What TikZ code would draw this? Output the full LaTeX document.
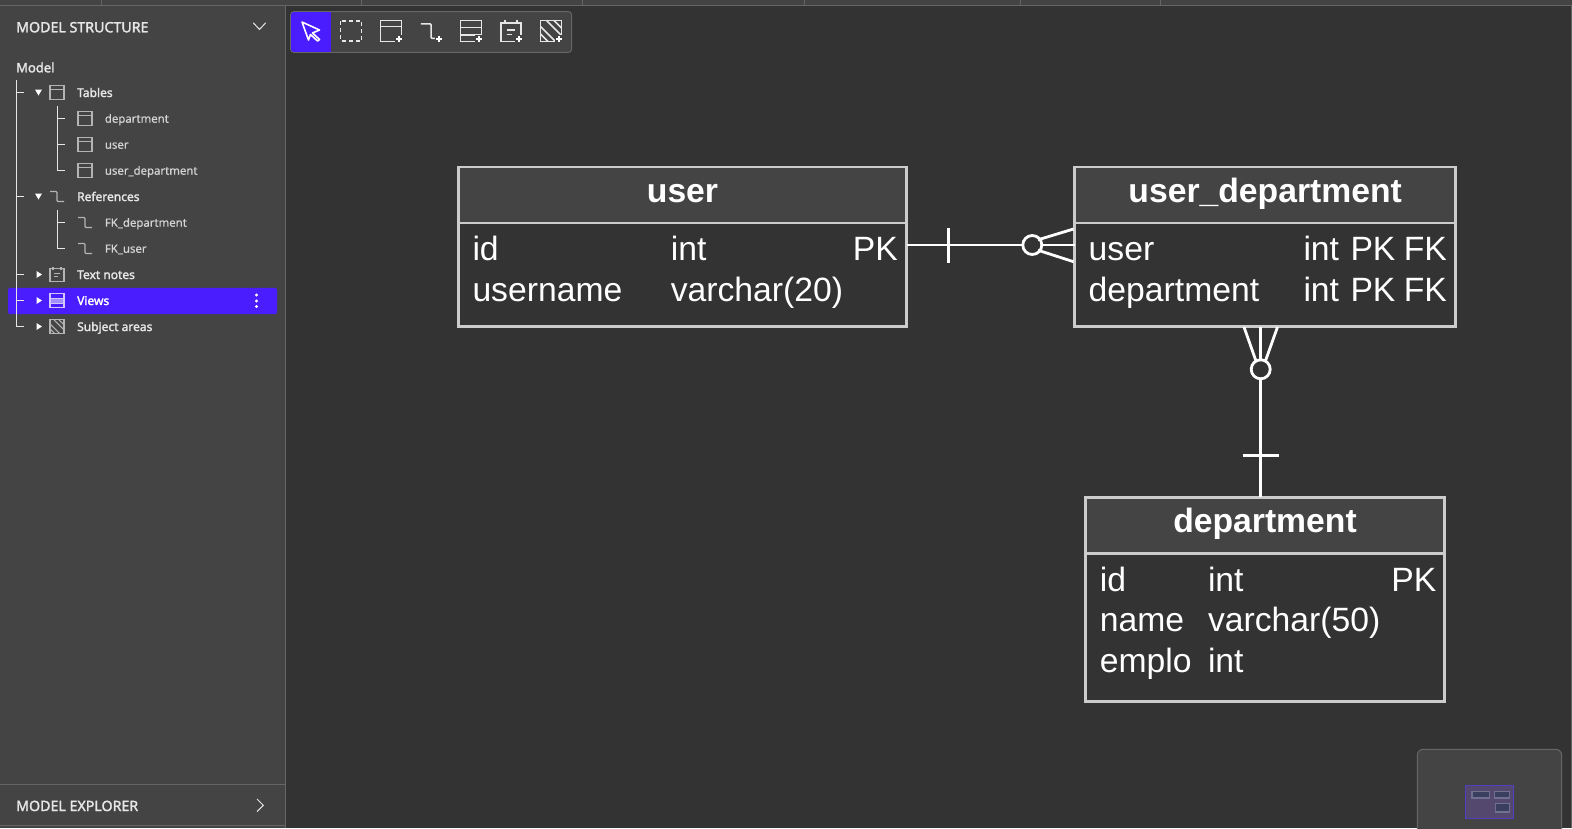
\documentclass[tikz,border=0pt]{standalone}
\usepackage{fontspec}
\setmainfont{Liberation Sans}
\newfontfamily\uifont[FakeBold=0.6]{Noto Sans}
\newfontfamily\uisemi[FakeBold=2]{Noto Sans}
\definecolor{canvas}{HTML}{333333}
\definecolor{panel}{HTML}{444444}
\definecolor{edge}{HTML}{666666}
\definecolor{tabline}{HTML}{CCCCCC}
\definecolor{accent}{HTML}{4A1DFF}
\definecolor{icong}{HTML}{B4B4B4}
\definecolor{uitext}{HTML}{E6E6E6}
\definecolor{minifill}{HTML}{54486E}
\definecolor{miniline}{HTML}{5040C0}
\definecolor{minitab}{HTML}{3A3F5F}
\definecolor{minitabl}{HTML}{70708F}
\tikzset{
 x=1pt,y=-1pt,
 tbox/.style={draw=tabline,line width=2.6pt,rectangle,inner sep=0pt,outer sep=0pt},
 thead/.style={tbox,fill=panel},
 tbody/.style={tbox},
 rowtxt/.style={inner sep=0pt,anchor=base west,text=white,font=\fontsize{33.7}{33.7}\selectfont},
 rowend/.style={rowtxt,anchor=base east},
 titletxt/.style={inner sep=0pt,anchor=base,text=white,font=\fontsize{33.7}{33.7}\selectfont\bfseries},
 conn/.style={draw=white,line width=2.8pt},
 sect/.style={inner sep=0pt,anchor=base west,text=uitext,font=\uisemi\fontsize{14.2}{14.2}\selectfont},
 lvlone/.style={inner sep=0pt,anchor=base west,text=uitext,font=\uisemi\fontsize{12}{12}\selectfont},
 lvltwo/.style={inner sep=0pt,anchor=base west,text=uitext!92!black,font=\uifont\fontsize{11.4}{12}\selectfont},
 tree/.style={draw=uitext,line width=1pt},
 ico/.style={draw=icong,line width=1.1pt},
 tool/.style={draw=uitext,line width=1.5pt},
 tri/.style={fill=white,draw=none},
}
\newcommand{\icTable}[3]{\begin{scope}[shift={(#1,#2)},scale=#3]
 \draw[ico,line width=\icw] (-7,-7) rectangle (7,7); \draw[ico,line width=\icw] (-7,-3) -- (7,-3);
\end{scope}}
\newcommand{\icRef}[3]{\begin{scope}[shift={(#1,#2)},scale=#3]
 \draw[ico,line width=\icw,rounded corners=1pt] (-7,-5) -- (0,-5) -- (0,5) -- (7,5);
\end{scope}}
\newcommand{\icNote}[3]{\begin{scope}[shift={(#1,#2)},scale=#3]
 \draw[ico,line width=\icw] (-7,-6) rectangle (7,7);
 \draw[ico,line width=\icw] (-4,-8) -- (-4,-5) (4,-8) -- (4,-5) (-3,-1) -- (3,-1) (-3,2) -- (1,2);
\end{scope}}
\newcommand{\icRows}[3]{\begin{scope}[shift={(#1,#2)},scale=#3]
 \draw[ico,line width=\icw] (-7,-7) rectangle (7,7); \draw[ico,line width=\icw] (-7,-2.5) -- (7,-2.5) (-7,2.5) -- (7,2.5);
\end{scope}}
\newcommand{\icArea}[3]{\begin{scope}[shift={(#1,#2)},scale=#3]
 \draw[ico,line width=\icw] (-7,-7) rectangle (7,7);
 \draw[ico,line width=\icw] (-7,-3) -- (3,7) (-3,-7) -- (7,3) (2,-7) -- (7,-2) (-7,2) -- (-2,7);
\end{scope}}
\newcommand{\icPlus}[2]{\fill[panel] (#1-4.5,#2-4.5) rectangle (#1+4.5,#2+4.5);
 \draw[white,line width=1.5pt] (#1-3,#2) -- (#1+3,#2) (#1,#2-3) -- (#1,#2+3);}
\newcommand{\triDown}[2]{\fill[tri] (#1-3.5,#2-3) -- (#1+3.5,#2-3) -- (#1,#2+3) -- cycle;}
\newcommand{\triRight}[2]{\fill[tri] (#1-2.5,#2-3.5) -- (#1+3,#2) -- (#1-2.5,#2+3.5) -- cycle;}
\def\icw{1.1pt}
\begin{document}
\begin{tikzpicture}
\useasboundingbox (0,0) rectangle (1572,828);
\fill[canvas] (0,0) rectangle (1572,828);
% top band
\fill[panel] (0,0) rectangle (1572,5.5);
\draw[edge,line width=1pt] (0,5.5) -- (1572,5.5);
\foreach \t in {101,361,582,804,1020,1160}{\draw[edge,line width=1pt] (\t,0) -- (\t,5);}
\draw[edge,line width=1pt] (1571,5.5) -- (1571,828);
% sidebar
\fill[panel] (0,6) rectangle (285,828);
\draw[edge,line width=1pt] (285.5,5.5) -- (285.5,828);
\draw[edge,line width=1pt] (0,784.5) -- (285,784.5) (0,825.5) -- (285,825.5);
\node[sect] (hstruct) at (16,32.3) {MODEL STRUCTURE};
\draw[draw=uitext,line width=1pt] (253.3,22.8) -- (259.5,29.5) -- (265.7,22.8);
\node[sect,font=\uisemi\fontsize{13}{13}\selectfont] (hmodel) at (16,72.3) {Model};
\node[sect] (hexpl) at (16,811) {MODEL EXPLORER};
\draw[draw=uitext,line width=1pt] (257,799) -- (263.3,805.3) -- (257,811.7);
% highlight
\fill[accent,rounded corners=1.5pt] (8,287.8) rectangle (277,314);
\fill[white] (256.5,295) circle[radius=1.6] (256.5,301) circle[radius=1.6] (256.5,306.5) circle[radius=1.6];
% tree lines
\draw[tree] (16.5,80) -- (16.5,326.5) -- (24,326.5);
\foreach \yy in {92.5,196.5,274.5,300.5}{\draw[tree] (16.5,\yy) -- (24,\yy);}
\draw[tree] (57.5,106) -- (57.5,170.5) -- (65,170.5) (57.5,118.5) -- (65,118.5) (57.5,144.5) -- (65,144.5);
\draw[tree] (57.5,210) -- (57.5,248.5) -- (65,248.5) (57.5,222.5) -- (65,222.5);
% triangles
\triDown{38.5}{92.5}\triDown{38.5}{196.5}
\triRight{39}{274.5}\triRight{39}{300.5}\triRight{39}{326.5}
% icons
\icTable{57}{92.8}{1}\icTable{85}{118.8}{1}\icTable{85}{144.8}{1}\icTable{85}{170.8}{1}
\icRef{57}{196.5}{1}\icRef{85}{222.5}{1}\icRef{85}{248.5}{1}
\icNote{57}{274.8}{1}
\fill[white!50!accent] (50,298) rectangle (64,303);
\begin{scope}[ico/.append style={draw=white!75!accent}]\icRows{57}{300.8}{1}\end{scope}
\icArea{57}{326.8}{1}
% labels
\node[lvlone] (ltables) at (77,97) {Tables};
\node[lvltwo] (ldept) at (104.7,122.7) {department};
\node[lvltwo] (luser) at (104.7,148.7) {user};
\node[lvltwo] (lud) at (104.7,174.7) {user\_department};
\node[lvlone] (lrefs) at (77,201) {References};
\node[lvltwo] (lfkd) at (104.7,226.7) {FK\_department};
\node[lvltwo] (lfku) at (104.7,252.7) {FK\_user};
\node[lvlone] (lnotes) at (77,279) {Text notes};
\node[lvlone,text=white] (lviews) at (77,305) {Views};
\node[lvlone] (lareas) at (77,331) {Subject areas};
% toolbar
\draw[edge,fill=panel,line width=1pt,rounded corners=3pt] (290.7,11.7) rectangle (571.5,52.3);
\fill[accent,rounded corners=2.5pt] (291.2,12.2) rectangle (298,51.8);
\fill[accent] (294,12.2) rectangle (331,51.8);
\draw[white,line width=1.6pt,line join=round] (302,22) -- (319.5,30) -- (312.5,33) -- (319.5,39.5) -- (317.5,41) -- (310.5,34.5) -- (308.5,40) -- cycle;
\draw[tool,dash pattern=on 4pt off 3pt] (340.5,21) rectangle (361.5,41);
\def\icw{1.5pt}
\begin{scope}[ico/.append style={draw=uitext}]
\icTable{391}{31}{1.5}\icPlus{399}{39}
\icRef{431}{31}{1.45}\icPlus{439}{39}
\icRows{471}{31}{1.5}\icPlus{479}{39}
\icNote{511}{31.5}{1.45}\icPlus{519}{39}
\icArea{551}{31}{1.5}\icPlus{559}{39}
\end{scope}
% minimap
\draw[edge,fill=panel,line width=1pt,rounded corners=6pt] (1417.3,840) -- (1417.3,749.3) -- (1561.7,749.3) -- (1561.7,840);
\draw[miniline,fill=minifill,line width=1pt] (1465.3,785.3) rectangle (1513.7,818);
\draw[minitabl,fill=minitab,line width=1.2pt] (1472,791.3) rectangle (1489.5,798);
\draw[minitabl,fill=minitab,line width=1.2pt] (1494.5,791.3) rectangle (1509.8,798);
\draw[minitabl,fill=minitab,line width=1.2pt] (1495.3,803.6) rectangle (1509.8,812);
% tables
\node[thead,minimum width=448.4pt,minimum height=56pt] (userh) at (682.5,195) {};
\node[tbody,minimum width=448.4pt,minimum height=103.7pt] (user) at (682.5,274.85) {};
\node[thead,minimum width=381pt,minimum height=56pt] (udh) at (1265.2,195) {};
\node[tbody,minimum width=381pt,minimum height=103.7pt] (ud) at (1265.2,274.85) {};
\node[thead,minimum width=358.6pt,minimum height=56pt] (depth) at (1265,525.3) {};
\node[tbody,minimum width=358.6pt,minimum height=148pt] (dept) at (1265,627.3) {};
\node[titletxt] (tuser) at (682.5,202.5) {user};
\node[titletxt] (tud) at (1265.2,202.5) {user\_department};
\node[titletxt] (tdept) at (1265,532.2) {department};
\node[rowtxt] (u1) at (472.3,260.5) {id};
\node[rowtxt] (u1t) at (670.6,260.5) {int};
\node[rowend] (u1k) at (898,260.5) {PK};
\node[rowtxt] (u2) at (472.3,301.3) {username};
\node[rowtxt] (u2t) at (670.6,301.3) {varchar(20)};
\node[rowtxt] (d1) at (1088.5,260.5) {user};
\node[rowtxt] (d1t) at (1303.3,260.5) {int};
\node[rowtxt] (d1p) at (1350.3,260.5) {PK};
\node[rowend] (d1f) at (1447,260.5) {FK};
\node[rowtxt] (d2) at (1088.5,301.3) {department};
\node[rowtxt] (d2t) at (1303.3,301.3) {int};
\node[rowtxt] (d2p) at (1350.3,301.3) {PK};
\node[rowend] (d2f) at (1447,301.3) {FK};
\node[rowtxt] (p1) at (1099.7,591.4) {id};
\node[rowtxt] (p1t) at (1207.8,591.4) {int};
\node[rowend] (p1k) at (1436.5,591.4) {PK};
\node[rowtxt] (p2) at (1099.7,631.6) {name};
\node[rowtxt] (p2t) at (1207.8,631.6) {varchar(50)};
\node[rowtxt] (p3) at (1099.7,672) {emplo};
\node[rowtxt] (p3t) at (1207.8,672) {int};
% connectors
\coordinate (rowy) at (0,245);
\coordinate (colx) at (1260.7,0);
\node[circle,draw=white,line width=2.8pt,minimum size=19pt,inner sep=0pt,outer sep=0pt] (c1) at (1032.3,245) {};
\node[circle,draw=white,line width=2.8pt,minimum size=19pt,inner sep=0pt,outer sep=0pt] (c2) at (1260.7,369.3) {};
\coordinate (t1) at (948.7,245);
\coordinate (t2) at (1260.7,455.3);
\draw[conn] (user.east |- rowy) -- (c1.west);
\draw[conn] ([yshift=-17.5pt]t1) -- ([yshift=17.5pt]t1);
\draw[conn] (c1.east) -- (ud.west |- rowy);
\draw[conn] (c1.north east) ++(-1,1.5) -- (1073.5,229);
\draw[conn] (c1.south east) ++(-1,-1.5) -- (1073.5,261.7);
\draw[conn] (depth.north -| colx) -- (c2.south);
\draw[conn] ([xshift=-18pt]t2) -- ([xshift=18pt]t2);
\draw[conn] (c2.north) -- (ud.south -| colx);
\draw[conn] (c2.north west) ++(2.2,-1) -- (1244,327);
\draw[conn] (c2.north east) ++(-2.2,-1) -- (1277.5,327);
\end{tikzpicture}
\end{document}
